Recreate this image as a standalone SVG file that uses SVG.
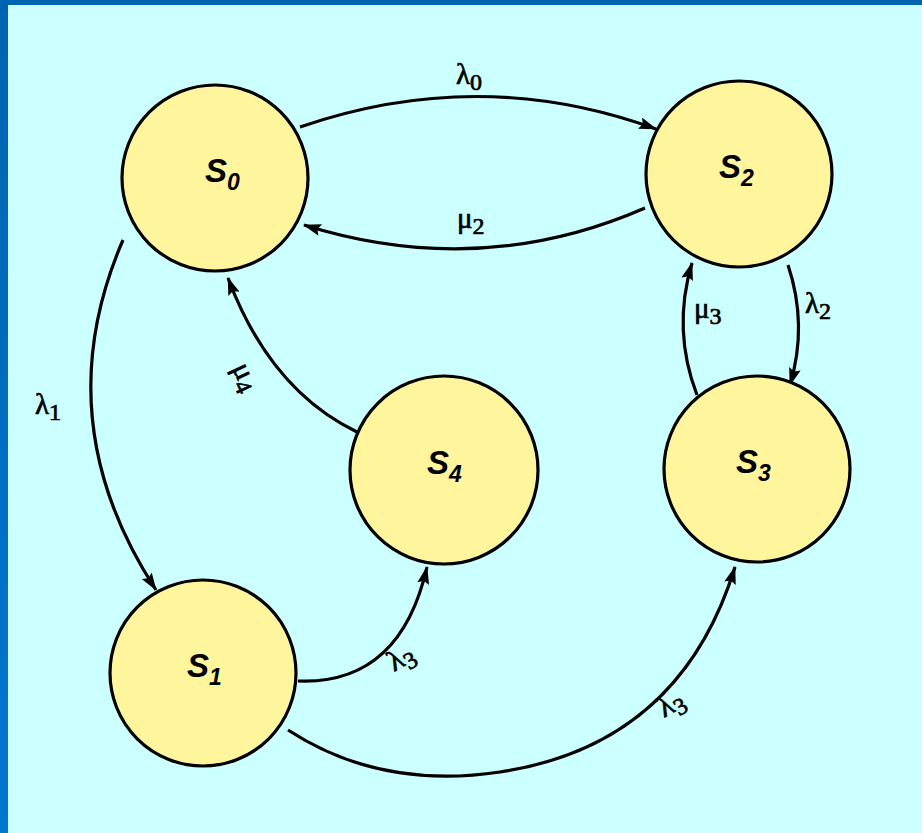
<svg xmlns="http://www.w3.org/2000/svg" width="922" height="833" viewBox="0 0 922 833">
<defs>
<marker id="arr" markerWidth="18" markerHeight="12" refX="17" refY="6" orient="auto" markerUnits="userSpaceOnUse">
<path d="M0,0 L18,6 L0,12 L3,6 Z" fill="#000"/>
</marker>
<linearGradient id="lb" x1="0" y1="0" x2="0" y2="1">
<stop offset="0" stop-color="#0063b0"/>
<stop offset="1" stop-color="#0078d0"/>
</linearGradient>
</defs>
<style>
.node circle{fill:#fff59d;stroke:#000;stroke-width:3.2}
.nl{font-family:"Liberation Sans",Arial,sans-serif;font-weight:bold;font-style:italic;font-size:33px;fill:#000}
.edge{fill:none;stroke:#000;stroke-width:3.2;marker-end:url(#arr)}
.el{font-family:"Liberation Serif","Times New Roman",serif;font-size:29px;fill:#000;stroke:#000;stroke-width:0.7}
</style>
<rect x="0" y="0" width="922" height="833" fill="#ccffff"/>
<rect x="0" y="0" width="922" height="5" fill="#0063b0"/>
<rect x="0" y="0" width="8" height="833" fill="url(#lb)"/>

<g id="connectors">
<path class="edge" d="M300,127 Q480,65 656,129"/>
<path class="edge" d="M645,208 Q480,280 304,225"/>
<path class="edge" d="M123,240 Q45,420 156,590"/>
<path class="edge" d="M357,432 Q270,390 228,278"/>
<path class="edge" d="M788,265 Q808,325 790,385"/>
<path class="edge" d="M697,395 Q672,330 692,263"/>
<path class="edge" d="M298,681 Q400,685 427,567"/>
<path class="edge" d="M288,730 Q380,790 500,772 Q680,745 735,567"/>
</g>

<g id="edge-labels">
<text class="el" x="456" y="84">λ<tspan font-size="24" dy="6">0</tspan></text>
<text class="el" x="457" y="228">μ<tspan font-size="24" dy="6">2</tspan></text>
<text class="el" x="35" y="414">λ<tspan font-size="24" dy="6">1</tspan></text>
<text class="el" x="805" y="313">λ<tspan font-size="24" dy="6">2</tspan></text>
<text class="el" x="694" y="318">μ<tspan font-size="24" dy="6">3</tspan></text>
<text class="el" transform="translate(232,368) rotate(65)">μ<tspan font-size="24" dy="6">4</tspan></text>
<text class="el" transform="translate(394,672) rotate(-30)">λ<tspan font-size="24" dy="6">3</tspan></text>
<text class="el" transform="translate(664,718) rotate(-30)">λ<tspan font-size="24" dy="6">3</tspan></text>
</g>

<g id="S0" class="node"><circle cx="215" cy="178" r="93"/><text class="nl" x="205" y="182">S<tspan font-size="23" dy="8">0</tspan></text></g>
<g id="S2" class="node"><circle cx="739" cy="174" r="93"/><text class="nl" x="719" y="178">S<tspan font-size="23" dy="8">2</tspan></text></g>
<g id="S4" class="node"><circle cx="444" cy="470" r="94"/><text class="nl" x="427" y="474">S<tspan font-size="23" dy="8">4</tspan></text></g>
<g id="S3" class="node"><circle cx="757" cy="469" r="93"/><text class="nl" x="736" y="473">S<tspan font-size="23" dy="8">3</tspan></text></g>
<g id="S1" class="node"><circle cx="203" cy="673" r="93"/><text class="nl" x="187" y="677">S<tspan font-size="23" dy="8">1</tspan></text></g>
</svg>
